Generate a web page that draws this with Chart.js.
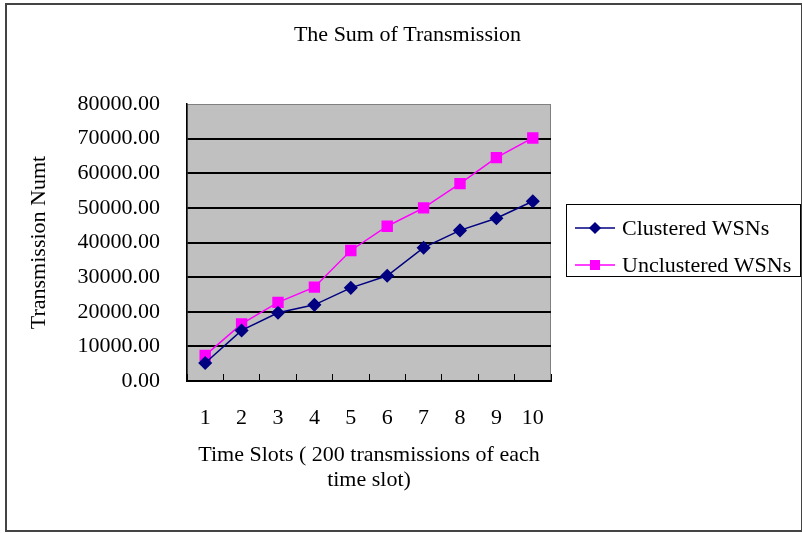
<!DOCTYPE html>
<html>
<head>
<meta charset="utf-8">
<script src="https://cdn.jsdelivr.net/npm/chart.js@4"></script>
<style>
  body { margin: 0; background: #fff; }
  #wrap { width: 802px; height: 533px; }
</style>
</head>
<body>
<div id="wrap"><canvas id="myChart" width="802" height="533"></canvas></div>
<script>
// data
let timeSlots = ['1', '2', '3', '4', '5', '6', '7', '8', '9', '10'];
let clustered = [5200, 14600, 19700, 22000, 26900, 30400, 38500, 43500, 47000, 51900];
let unclustered = [7400, 16500, 22700, 27100, 37700, 44700, 50000, 57000, 64500, 70200];
let seriesNames = ['Clustered WSNs', 'Unclustered WSNs'];
let yTicks = [0, 10000, 20000, 30000, 40000, 50000, 60000, 70000, 80000];

const FONT = 'Liberation Serif';

// white page, outer frame and the grey plot area
const backgroundPlugin = {
  id: 'excelBackground',
  beforeDraw(chart) {
    let ctx = chart.ctx;
    let area = chart.chartArea;
    ctx.save();
    ctx.fillStyle = '#fff';
    ctx.fillRect(0, 0, chart.width, chart.height);
    ctx.strokeStyle = '#444';
    ctx.lineWidth = 2;
    ctx.strokeRect(6, 4, 796, 527);
    ctx.fillStyle = '#c0c0c0';
    ctx.fillRect(area.left, area.top, area.right - area.left, area.bottom - area.top);
    ctx.strokeStyle = '#808080';
    ctx.lineWidth = 1;
    ctx.strokeRect(area.left + 0.5, area.top + 0.5, area.right - area.left - 1, area.bottom - area.top - 1);
    ctx.restore();
  }
};

// boxed legend on the right, line with marker like Excel
const legendPlugin = {
  id: 'boxLegend',
  afterDraw(chart) {
    let ctx = chart.ctx;
    ctx.save();
    ctx.strokeStyle = '#000';
    ctx.lineWidth = 1;
    ctx.strokeRect(566.5, 204.5, 234, 72);
    let rows = [228, 265];
    chart.data.datasets.forEach(function(ds, i) {
      let y = rows[i];
      ctx.strokeStyle = ds.borderColor;
      ctx.lineWidth = 1.5;
      ctx.beginPath();
      ctx.moveTo(575, y);
      ctx.lineTo(615, y);
      ctx.stroke();
      Chart.helpers.drawPoint(ctx, {
        pointStyle: ds.pointStyle,
        radius: ds.pointRadius - 1,
        rotation: 0,
        borderWidth: 1
      }, 595, y);
      ctx.fillStyle = ds.pointBackgroundColor;
      ctx.strokeStyle = ds.pointBorderColor;
      ctx.fill();
      ctx.fillStyle = '#000';
      ctx.font = '22px "' + FONT + '"';
      ctx.textAlign = 'left';
      ctx.textBaseline = 'middle';
      ctx.fillText(ds.label, 622, y + 1);
    });
    ctx.restore();
  }
};

const ctx = document.getElementById('myChart').getContext('2d');
const myChart = new Chart(ctx, {
  type: 'line',
  data: {
    labels: timeSlots,
    datasets: [{
      label: seriesNames[0],
      data: clustered,
      borderColor: '#000080',
      backgroundColor: '#000080',
      pointBackgroundColor: '#000080',
      pointBorderColor: '#000080',
      pointStyle: 'rectRot',
      pointRadius: 6,
      borderWidth: 1.5,
      tension: 0
    }, {
      label: seriesNames[1],
      data: unclustered,
      borderColor: '#ff00ff',
      backgroundColor: '#ff00ff',
      pointBackgroundColor: '#ff00ff',
      pointBorderColor: '#ff00ff',
      pointStyle: 'rect',
      pointRadius: 7,
      borderWidth: 1.5,
      tension: 0
    }]
  },
  options: {
    responsive: false,
    animation: false,
    layout: { padding: { left: 13, right: 0, top: 0, bottom: 0 } },
    plugins: {
      legend: { display: false },
      tooltip: { enabled: false },
      title: {
        display: true,
        text: 'The Sum of Transmission',
        color: '#000',
        font: { family: FONT, size: 22, weight: 'normal', lineHeight: 1.2 },
        padding: { top: 22, bottom: 55.6 }
      }
    },
    scales: {
      x: {
        type: 'category',
        offset: true,
        grid: {
          offset: true,
          drawOnChartArea: false,
          drawTicks: true,
          tickLength: -7,
          color: '#000',
          lineWidth: 1
        },
        border: { display: true, color: '#000', width: 2 },
        ticks: {
          color: '#000',
          padding: 30.8,
          font: { family: FONT, size: 22, lineHeight: 1.2 }
        },
        title: {
          display: true,
          text: ['Time Slots ( 200 transmissions of each', 'time slot)'],
          color: '#000',
          font: { family: FONT, size: 22, lineHeight: 1.14 },
          padding: { top: 0, bottom: 40.5 }
        },
        afterFit(scale) { scale.height = 152; }
      },
      y: {
        min: 0,
        max: 80000,
        afterBuildTicks(scale) {
          scale.ticks = yTicks.map(function(v) { return { value: v }; });
        },
        grid: {
          drawTicks: false,
          color(c) { return c.tick && c.tick.value === 80000 ? 'rgba(0,0,0,0)' : '#000'; },
          lineWidth: 2
        },
        border: { display: true, color: '#000', width: 1.5 },
        ticks: {
          color: '#000',
          padding: 27,
          font: { family: FONT, size: 22, lineHeight: 1.2 },
          callback(value) { return Number(value).toFixed(2); }
        },
        title: {
          display: true,
          text: 'Transmission Numt',
          color: '#000',
          font: { family: FONT, size: 22, lineHeight: 1.2 },
          padding: { top: 13.3, bottom: 0 }
        },
        afterFit(scale) { scale.width = 174; }
      },
      side: {
        type: 'linear',
        position: 'right',
        display: true,
        grid: { display: false },
        border: { display: false },
        ticks: { display: false },
        afterFit(scale) { scale.width = 251; }
      }
    }
  },
  plugins: [backgroundPlugin, legendPlugin]
});
</script>
</body>
</html>
